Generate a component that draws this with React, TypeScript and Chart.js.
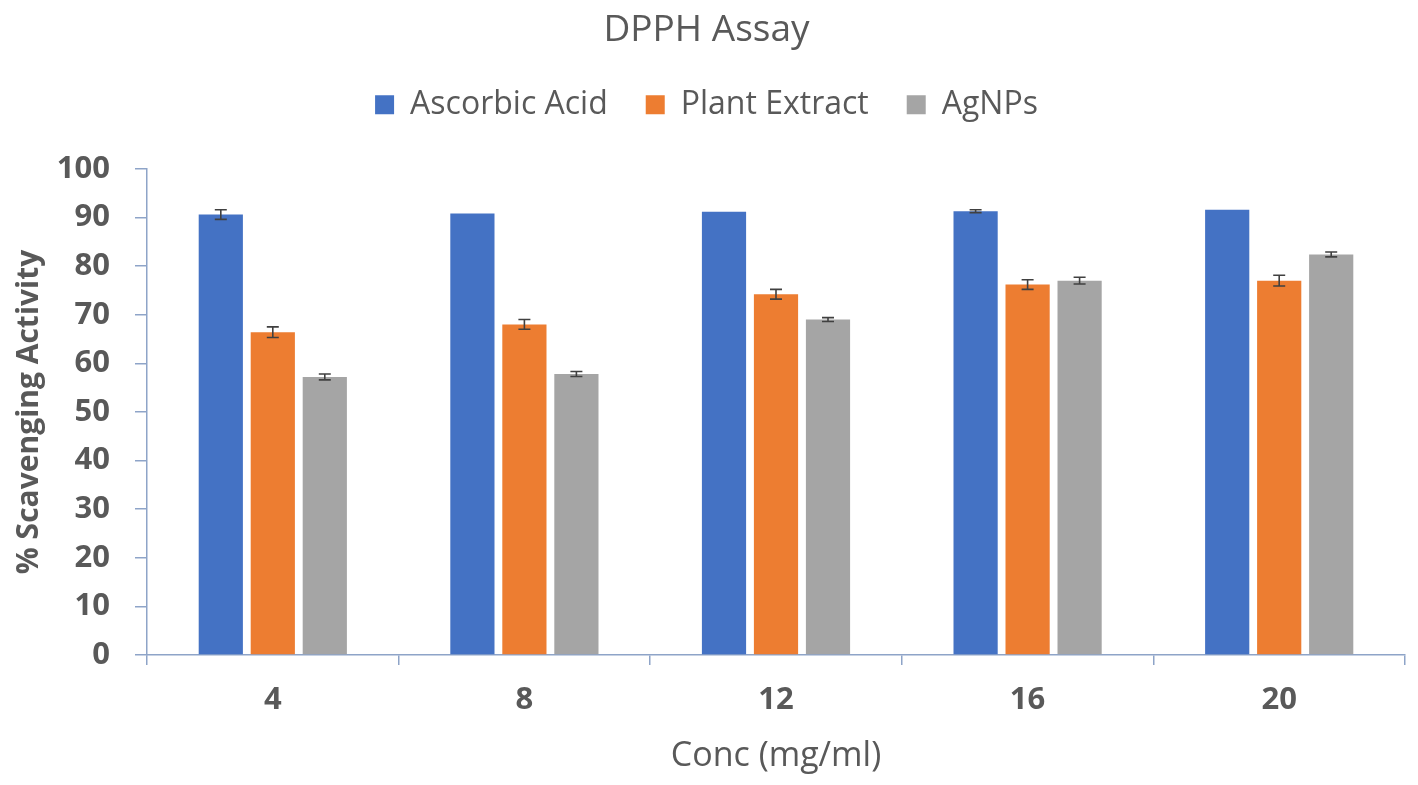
import { useEffect, useRef } from 'react';
import { Chart, registerables } from 'chart.js';

Chart.register(...registerables);

const concentrations = ['4', '8', '12', '16', '20'];
const ascorbicAcid = [90.6, 90.8, 91.2, 91.3, 91.6];
const ascorbicErr = [1.0, 0, 0, 0.3, 0];
const plantExtract = [66.4, 68.0, 74.2, 76.2, 77.0];
const plantErr = [1.1, 1.0, 1.0, 1.0, 1.1];
const agNPs = [57.2, 57.8, 69.0, 77.0, 82.4];
const agErr = [0.6, 0.5, 0.4, 0.7, 0.5];
const yTicks = [0, 10, 20, 30, 40, 50, 60, 70, 80, 90, 100];

const FONT = "'Open Sans', sans-serif";
const TEXT = '#595959';
const AXIS = '#8EA4C8';

const errorBars = {
  id: 'errorBars',
  afterDatasetsDraw(chart: any) {
    const { ctx } = chart;
    const y = chart.scales.y;
    ctx.save();
    ctx.strokeStyle = '#404040';
    ctx.lineWidth = 1.6;
    chart.data.datasets.forEach((ds: any, i: number) => {
      const meta = chart.getDatasetMeta(i);
      meta.data.forEach((bar: any, j: number) => {
        const e = ds.errors[j];
        if (!e) return;
        const v = ds.data[j];
        const top = y.getPixelForValue(v + e);
        const bot = y.getPixelForValue(v - e);
        const cap = 6;
        ctx.beginPath();
        ctx.moveTo(bar.x, top);
        ctx.lineTo(bar.x, bot);
        ctx.moveTo(bar.x - cap, top);
        ctx.lineTo(bar.x + cap, top);
        ctx.moveTo(bar.x - cap, bot);
        ctx.lineTo(bar.x + cap, bot);
        ctx.stroke();
      });
    });
    ctx.restore();
  },
};

// push the plot area down below the legend
const legendSpace = {
  id: 'legendSpace',
  beforeInit(chart: any) {
    const fit = chart.legend.fit;
    chart.legend.fit = function () {
      fit.bind(chart.legend)();
      this.height += 38;
    };
  },
};

const DpphChart = () => {
  const chartRef = useRef<HTMLCanvasElement>(null);
  const chartInstance = useRef<Chart | null>(null);

  useEffect(() => {
    if (chartRef.current) {
      if (chartInstance.current) {
        chartInstance.current.destroy();
      }

      const bar = { barPercentage: 0.85, categoryPercentage: 0.62 };

      chartInstance.current = new Chart(chartRef.current, {
        type: 'bar',
        data: {
          labels: concentrations,
          datasets: [
            { label: 'Ascorbic Acid', data: ascorbicAcid, errors: ascorbicErr, backgroundColor: '#4472C4', ...bar } as any,
            { label: 'Plant Extract', data: plantExtract, errors: plantErr, backgroundColor: '#ED7D31', ...bar } as any,
            { label: 'AgNPs', data: agNPs, errors: agErr, backgroundColor: '#A5A5A5', ...bar } as any,
          ],
        },
        options: {
          responsive: false,
          animation: false,
          layout: { padding: { left: 0, right: 5, top: 0, bottom: 0 } },
          plugins: {
            title: {
              display: true,
              text: 'DPPH Assay',
              color: TEXT,
              font: { family: FONT, size: 37, weight: 'normal', lineHeight: 1.05 },
              padding: { top: 3, bottom: 1 },
            },
            legend: {
              labels: {
                color: TEXT,
                font: { family: FONT, size: 32 },
                boxWidth: 19,
                boxHeight: 19,
                padding: 38,
              },
            },
            tooltip: { enabled: false },
          },
          scales: {
            x: {
              grid: {
                offset: true,
                drawOnChartArea: false,
                color: AXIS,
                lineWidth: 1.5,
                tickLength: 10,
              },
              border: { color: AXIS, width: 1.5 },
              ticks: {
                color: TEXT,
                font: { family: FONT, size: 31, weight: 'bold' },
                padding: 17,
              },
              title: {
                display: true,
                text: 'Conc (mg/ml)',
                color: TEXT,
                font: { family: FONT, size: 34, weight: 'normal' },
                padding: { top: 0, bottom: 0 },
              },
            },
            y: {
              min: 0,
              max: 100,
              afterBuildTicks: (axis: any) => {
                axis.ticks = yTicks.map((value) => ({ value }));
              },
              afterFit: (axis: any) => {
                axis.width = 139;
              },
              grid: {
                drawOnChartArea: false,
                color: AXIS,
                lineWidth: 1.5,
                tickLength: 12,
              },
              border: { color: AXIS, width: 1.5 },
              ticks: {
                color: TEXT,
                font: { family: FONT, size: 31, weight: 'bold' },
                padding: 25,
              },
              title: {
                display: true,
                text: '% Scavenging Activity',
                color: TEXT,
                font: { family: FONT, size: 30, weight: 'bold' },
                padding: { top: 3, bottom: 0 },
              },
            },
          },
        },
        plugins: [errorBars, legendSpace],
      });
    }

    return () => {
      if (chartInstance.current) {
        chartInstance.current.destroy();
      }
    };
  }, []);

  return <canvas ref={chartRef} width={1402} height={769} />;
};

export default function App() {
  return (
    <div style={{ width: 1402, height: 769 }}>
      <DpphChart />
    </div>
  );
}
